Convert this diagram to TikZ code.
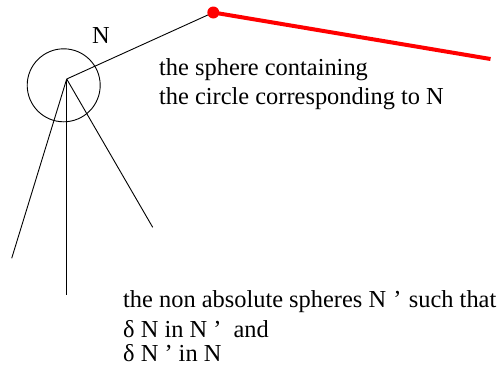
\documentclass[tikz,border=0pt]{standalone}
\usepackage{fontspec}
\setmainfont{Liberation Serif}
\newfontfamily\zeitfont{Liberation Serif}
\usepackage{tikz}
\definecolor{rotlinie}{HTML}{FF0000}
\tikzset{
  strich/.style={black,line width=0.9pt},
  kugel/.style={black,line width=0.9pt},
  rot/.style={rotlinie,line width=4pt},
  punkt/.style={fill=rotlinie,draw=none},
  txt/.style={anchor=base west,inner sep=0pt,font=\zeitfont\fontsize{24.4}{28}\selectfont},
}

\begin{document}
\begin{tikzpicture}[x=1pt,y=-1pt]
  \useasboundingbox (0,0) rectangle (498,373);
  \coordinate (M) at (63.7,85.3);
  \coordinate (Z) at (66.7,79);
  \coordinate (P) at (213.3,12.5);
  \coordinate (E) at (490.5,59);
  \coordinate (L1) at (11.7,258.3);
  \coordinate (L2) at (66.7,295);
  \coordinate (L3) at (152.7,227.3);
  % --- Kugel N und Strahlen ---
  \draw[kugel] (M) circle (36.5);
  \draw[strich] (Z)--(P);
  \draw[strich] (Z)--(L1);
  \draw[strich] (Z)--(L2);
  \draw[strich] (Z)--(L3);
  % --- rote Kugel ---
  \draw[rot] (P)--(E);
  \fill[punkt] (P) circle (6);
  % --- Beschriftung ---
  \node[txt] (n) at (92,43) {N};
  \node[txt] (s1) at (159,75) {the sphere containing};
  \node[txt] (s2) at (159,104) {the circle corresponding to N};
  \node[txt] (a1) at (123,307) {the non absolute spheres N\hspace{0.3em}’\hspace{0.3em}such that};
  \node[txt] (a2) at (123,337) {δ N in N ’ \ and};
  \node[txt] (a3) at (123,361) {δ N ’ in N};
\end{tikzpicture}
\end{document}
